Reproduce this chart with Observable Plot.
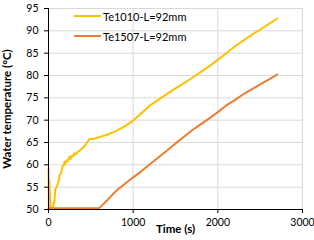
<!DOCTYPE html>
<html>
<head>
<meta charset="utf-8">
<script src="https://cdn.jsdelivr.net/npm/d3@7"></script>
<script src="https://cdn.jsdelivr.net/npm/@observablehq/plot@0.6"></script>
<style>
  html, body { margin: 0; padding: 0; background: #fff; }
  #wrap { position: relative; width: 314px; height: 240px; font-family: Lato, "Open Sans", sans-serif; }
  .leg { position: absolute; left: 74px; font-size: 11px; color: #000; display: flex; align-items: center; white-space: nowrap; }
  .leg .sw { width: 27px; height: 2px; margin-right: 2px; }
</style>
</head>
<body>
<div id="wrap"></div>
<script>
// Series 1: Te1010-L=92mm
const seriesA = "Te1010-L=92mm";
const timeA = [0,4,10,22,30,50,60,70,78,95,110,120,135,150,165,178,190,200,215,230,245,260,275,290,305,320,340,360,380,400,420,440,460,480,500,550,600,700,800,900,1000,1100,1200,1300,1400,1500,1600,1700,1800,1900,2000,2100,2200,2300,2400,2500,2600,2700];
const tempA = [59.2,50.6,56.5,51,50.4,50.4,51.5,51.5,54.5,55,55.8,56.5,57.8,58.2,59.6,59.8,60.7,60.2,61,60.8,61.8,61.3,62,61.9,62.6,62.3,62.8,63.1,63.4,63.7,64.1,64.5,65.1,65.7,65.8,65.9,66.2,66.8,67.6,68.6,69.9,71.6,73.3,74.6,75.9,77.1,78.3,79.5,80.8,82.1,83.5,85.0,86.5,87.8,89.1,90.3,91.5,92.7];
// Series 2: Te1507-L=92mm
const seriesB = "Te1507-L=92mm";
const timeB = [0,600,700,800,900,1000,1100,1200,1300,1400,1500,1600,1700,1800,1900,2000,2100,2200,2300,2400,2500,2600,2700];
const tempB = [50.3,50.3,52.2,54.2,55.7,57.2,58.6,60.2,61.7,63.2,64.8,66.3,67.8,69.1,70.4,71.8,73.3,74.5,75.8,76.9,78.0,79.1,80.2];

const xTicks = [0,1000,2000,3000];
const yTicks = [50,55,60,65,70,75,80,85,90,95];
const xLabel = "Time (s)";
const yLabel = "Water temperature (°C)";
const colors = {[seriesA]: "#FFC000", [seriesB]: "#ED7D31"};

const rows = [
  ...timeA.map((t, i) => ({series: seriesA, t, v: tempA[i]})),
  ...timeB.map((t, i) => ({series: seriesB, t, v: tempB[i]}))
];

const chart = Plot.plot({
  width: 314,
  height: 240,
  marginLeft: 48,
  marginRight: 12,
  marginTop: 8,
  marginBottom: 31,
  style: {fontFamily: "Lato, 'Open Sans', sans-serif", fontSize: "10.5px", color: "#000", background: "#fff", overflow: "visible"},
  x: {domain: [0, 3000]},
  y: {domain: [50, 95]},
  marks: [
    Plot.ruleY(yTicks, {y: d => d, stroke: "#d9d9d9", strokeWidth: 1}),
    Plot.ruleX(xTicks, {x: d => d, stroke: "#d9d9d9", strokeWidth: 1}),
    Plot.line(rows, {x: "t", y: "v", z: "series", stroke: d => colors[d.series], strokeWidth: 2, curve: "linear", strokeLinejoin: "round"}),
    Plot.ruleX([0], {stroke: "#000", strokeWidth: 1}),
    Plot.ruleY([50], {stroke: "#000", strokeWidth: 1}),
    Plot.axisY(yTicks, {tickSize: 4, tickPadding: 6, label: null, stroke: "#000"}),
    Plot.axisX(xTicks, {tickSize: 4, tickPadding: 5, label: null, stroke: "#000", tickFormat: d3.format("d")}),
    Plot.text([xLabel], {frameAnchor: "bottom", dy: 23, fontWeight: "bold", fontSize: 11.5}),
    Plot.text([yLabel], {frameAnchor: "left", dx: -41, rotate: -90, textAnchor: "middle", fontWeight: "bold", fontSize: 11.5})
  ]
});

const wrap = document.getElementById("wrap");
wrap.appendChild(chart);

[[seriesA, 10], [seriesB, 30]].forEach(([name, top]) => {
  const d = document.createElement("div");
  d.className = "leg";
  d.style.top = top + "px";
  d.style.height = "12px";
  const sw = document.createElement("span");
  sw.className = "sw";
  sw.style.background = colors[name];
  const tx = document.createElement("span");
  tx.textContent = name;
  d.appendChild(sw);
  d.appendChild(tx);
  wrap.appendChild(d);
});
</script>
</body>
</html>
